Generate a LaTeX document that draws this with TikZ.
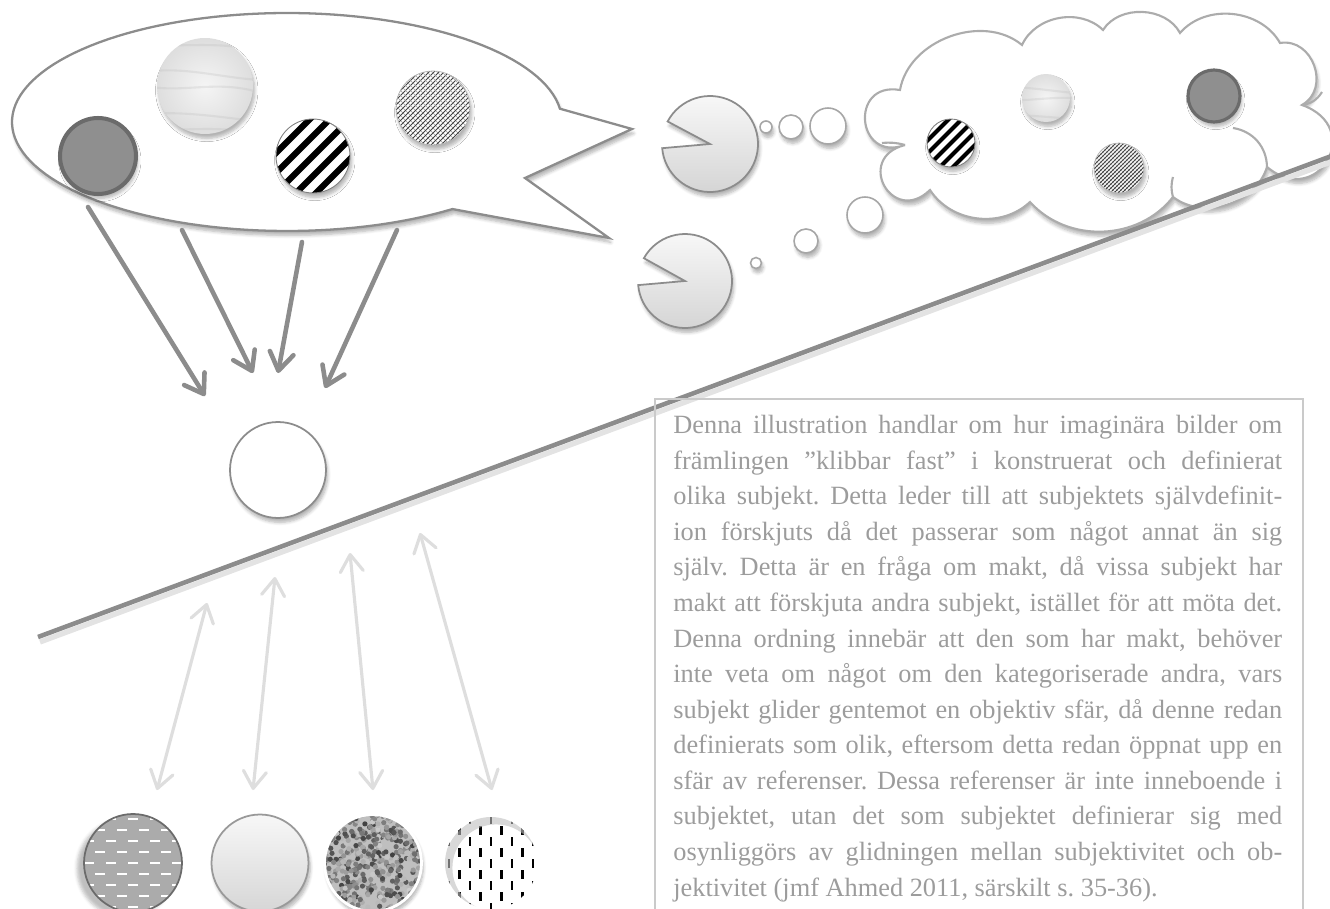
\documentclass[tikz,border=0pt]{standalone}
\usepackage{fontspec}
\setmainfont{Liberation Serif}
\usetikzlibrary{arrows.meta,shadows.blur}
\definecolor{pilgra}{HTML}{8C8C8C}
\definecolor{ljusgra}{HTML}{DEDEDE}
\definecolor{textgra}{HTML}{9C9C9C}
\definecolor{ramgra}{HTML}{CACACA}
\definecolor{morkgra}{HTML}{8F8F8F}
\definecolor{kantgra}{HTML}{6B6B6B}
\definecolor{bottengra}{HTML}{ABABAB}

\begin{document}
\begin{tikzpicture}[x=0.02cm, y=-0.02cm,
    pil/.style={pilgra, line width=2.6pt, line cap=round,
        -{Straight Barb[length=3.6mm, width=4.8mm, round]}},
    dubbelpil/.style={ljusgra, line width=1.8pt, line cap=round,
        {Straight Barb[length=3.4mm, width=4.6mm, round]}-{Straight Barb[length=3.4mm, width=4.6mm, round]}},
    skugga/.style={blur shadow={shadow xshift=1pt, shadow yshift=-2.5pt,
        shadow opacity=30, shadow blur steps=6}},
    kontur/.style={draw=pilgra, line width=1.3pt, fill=white},
    moln/.style={draw=gray!65, line width=1.2pt, fill=white},
    tanke/.style={circle, inner sep=0pt, draw=gray!70, line width=0.9pt, fill=white, skugga},
    mork/.style={circle, inner sep=0pt, fill=morkgra, draw=kantgra, line width=#1, skugga},
    randig/.style={circle, inner sep=0pt, fill=white, draw=gray, line width=0.5pt, skugga,
        path picture={\foreach \k in {-4,...,4}
            \draw[black, line width=#1*0.18pt, shift={(path picture bounding box.center)}]
                ({\k*#1-3*#1}, {3*#1}) -- ++({6*#1}, {-6*#1});}},
    rutig/.style={circle, inner sep=0pt, fill=white, draw=gray!60, line width=0.4pt, skugga,
        path picture={\foreach \k in {-12,...,12} {
            \draw[black!75, line width=0.45pt, shift={(path picture bounding box.center)}]
                ({\k*#1-50}, 50) -- ++(100, -100);
            \draw[black!40, line width=0.3pt, shift={(path picture bounding box.center)}]
                ({\k*#1-50}, -50) -- ++(100, 100);}}},
    marmor/.style={circle, inner sep=0pt, shade, inner color=gray!8, outer color=gray!26, skugga,
        path picture={\foreach \k/\v in {-3/4,-1/-6,0/8,2/-3,3/5}
            \draw[gray!55, line width=1.2pt, opacity=0.25, shift={(path picture bounding box.center)}]
                (-60, {\k*#1}) .. controls (-20, {\k*#1+\v}) and (15, {\k*#1-\v}) .. (60, {\k*#1+#1*0.6});}},
    streckad/.style={circle, inner sep=0pt, fill=bottengra, draw=kantgra, line width=1pt,
        blur shadow={shadow xshift=-4pt, shadow yshift=-3pt, shadow opacity=25},
        path picture={\foreach \j in {-4,...,4} \foreach \i in {-3,...,3}
            \fill[white, shift={(path picture bounding box.center)}]
                ({\i*22+11*mod(\j+4,2)-5}, {\j*11-1}) rectangle ++(10, 2.2);}},
    tom/.style={circle, inner sep=0pt, shade, top color=gray!6, bottom color=gray!32,
        draw=gray!80, line width=1pt, skugga},
    brus/.style={circle, inner sep=0pt, fill=gray!50, draw=white, line width=1.6pt, skugga,
        path picture={\pgfmathsetseed{11}
            \foreach \i in {1,...,520} {
                \pgfmathsetmacro{\bx}{100*rnd-50}
                \pgfmathsetmacro{\by}{100*rnd-50}
                \pgfmathsetmacro{\bg}{int(20+55*rnd)}
                \fill[black!\bg, shift={(path picture bounding box.center)}] (\bx,\by) circle[radius=2.6];}}},
    prickig/.style={circle, inner sep=0pt, fill=white,
        path picture={\foreach \i in {-5,...,5} \foreach \j in {-3,...,3}
            \fill[black, shift={(path picture bounding box.center)}]
                ({\i*10.5-1.3}, {\j*22+11*mod(\i+6,2)-4.5}) rectangle ++(2.6, 9);
            \draw[gray!50, line width=5pt, opacity=0.6, shift={(path picture bounding box.center)}]
                (5,5) circle[radius=48];}},
]
\useasboundingbox (0,0) rectangle (1330,909);
\clip (0,0) rectangle (1330,909);

% pratbubbla
\draw[kontur, skugga] plot[domain=53:353, samples=120] ({287+275*cos(\x)}, {122+109*sin(\x)})
    -- (632,129) -- (525,178) -- (609,238) -- cycle;
\node[mork=2.3pt, minimum size=1.52cm] (mork1) at (98,156) {};
\node[marmor=14, minimum size=1.92cm] (marmor1) at (205,86) {};
\node[randig=20, minimum size=1.48cm] (rand1) at (313,156) {};
\node[rutig=5, minimum size=1.48cm] (rut1) at (433,108) {};

% pilar mot mitten
\coordinate (u1) at (88,207);  \coordinate (n1) at (205,396);
\coordinate (u2) at (182,230); \coordinate (n2) at (253,373);
\coordinate (u3) at (302,242); \coordinate (n3) at (278,373);
\coordinate (u4) at (397,230); \coordinate (n4) at (325,388);
\draw[pil] (u1) -- (n1);
\draw[pil] (u2) -- (n2);
\draw[pil] (u3) -- (n3);
\draw[pil] (u4) -- (n4);
\node[circle, inner sep=0pt, minimum size=1.92cm, draw=pilgra, line width=1pt, fill=white, skugga]
    (mitt) at (278,470) {};

% tankemoln
\draw[moln, skugga] (900,90) to[bend left=60] (1022,45) to[bend left=55] (1103,30)
    to[bend left=60] (1180,33) to[bend left=55] (1280,43) to[bend left=80, looseness=1.3] (1302,105)
    to[bend left=100, looseness=2.4] (1267,167) to[bend left=55] (1173,197)
    to[bend left=50] (1030,202) to[bend left=50] (930,190)
    to[bend left=105, looseness=2.6] (905,145) to[bend left=105, looseness=2.4] cycle;
\draw[moln, fill=none] (1302,105) to[bend right=25] (1322,92);
\draw[moln, fill=none] (1233,128) to[bend left=40] (1267,167);
\draw[moln, fill=none] (882,143) to[bend left=10] (905,145);
\draw[moln, fill=none] (1173,177) to[bend right=15] (1173,197);
\node[randig=13, minimum size=0.96cm] (rand2) at (951,143) {};
\node[marmor=9, minimum size=0.96cm] (marmor2) at (1046,98) {};
\node[rutig=4, minimum size=1cm] (rut2) at (1119,168) {};
\node[mork=1.8pt, minimum size=1.04cm] (mork2) at (1214,96) {};

% linjen
\coordinate (linje1) at (38,637);
\coordinate (linje2) at (1345,151);
\draw[gray!22, line width=3pt] ([shift={(2,5)}]linje1) -- ([shift={(2,5)}]linje2);
\draw[pilgra, line width=2.6pt] (linje1) -- (linje2);

% pacman och tankebubblor
\shade[top color=gray!6, bottom color=gray!33, draw=pilgra, line width=1pt, skugga]
    (710,144) -- plot[domain=-152:175, samples=60] ({710+48*cos(\x)}, {144+48*sin(\x)}) -- cycle;
\shade[top color=gray!6, bottom color=gray!33, draw=pilgra, line width=1pt, skugga]
    (685,281) -- plot[domain=-151:175, samples=60] ({685+47*cos(\x)}, {281+47*sin(\x)}) -- cycle;
\node[tanke, minimum size=0.24cm] (t1) at (766,127) {};
\node[tanke, minimum size=0.48cm] (t2) at (791,127) {};
\node[tanke, minimum size=0.72cm] (t3) at (828,126) {};
\node[tanke, minimum size=0.22cm] (t4) at (756,263) {};
\node[tanke, minimum size=0.48cm] (t5) at (806,241) {};
\node[tanke, minimum size=0.72cm] (t6) at (865,215) {};

% pilar nedåt
\coordinate (l1) at (207,603); \coordinate (b1) at (157,790);
\coordinate (l2) at (275,577); \coordinate (b2) at (253,790);
\coordinate (l3) at (350,553); \coordinate (b3) at (373,790);
\coordinate (l4) at (420,533); \coordinate (b4) at (492,790);
\draw[dubbelpil] (l1) -- (b1);
\draw[dubbelpil] (l2) -- (b2);
\draw[dubbelpil] (l3) -- (b3);
\draw[dubbelpil] (l4) -- (b4);
\node[streckad, minimum size=1.96cm] (botten1) at (133,863) {};
\node[tom, minimum size=1.94cm] (botten2) at (260,863) {};
\node[brus, minimum size=1.94cm] (botten3) at (373,863) {};
\node[prickig, minimum size=1.84cm] (botten4) at (491,863) {};

% textruta
\draw[ramgra, line width=1pt] (655,399) rectangle (1303,950);
\node[anchor=north west, inner sep=0pt, text width=12.18cm, align=justify, text=textgra,
      font=\fontsize{15}{20.25}\selectfont] (text) at (673,415) {%
\frenchspacing\tolerance=9999\hbadness=10000\hyphenpenalty=10000\exhyphenpenalty=10000
Denna illustration handlar om hur imaginära bilder om\linebreak
främlingen ”klibbar fast” i konstruerat och definierat\linebreak
olika subjekt. Detta leder till att subjektets självdefinit-\linebreak
ion förskjuts då det passerar som något annat än sig\linebreak
själv. Detta är en fråga om makt, då vissa subjekt har\linebreak
makt att förskjuta andra subjekt, istället för att möta det.\linebreak
Denna ordning innebär att den som har makt, behöver\linebreak
inte veta om något om den kategoriserade andra, vars\linebreak
subjekt glider gentemot en objektiv sfär, då denne redan\linebreak
definierats som olik, eftersom detta redan öppnat upp en\linebreak
sfär av referenser. Dessa referenser är inte inneboende i\linebreak
subjektet, utan det som subjektet definierar sig med\linebreak
osynliggörs av glidningen mellan subjektivitet och ob-\linebreak
jektivitet (jmf Ahmed 2011, särskilt s. 35-36).};
\end{tikzpicture}
\end{document}
